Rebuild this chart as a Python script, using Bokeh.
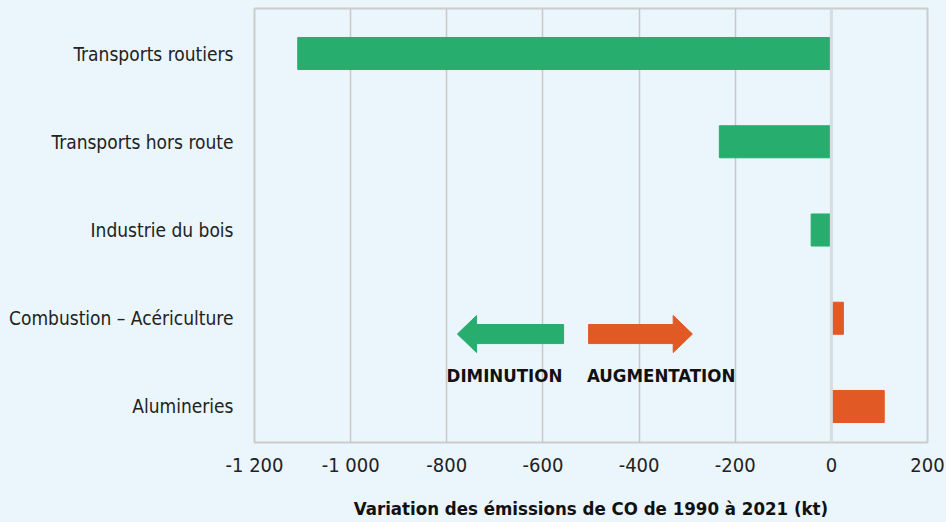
from bokeh.plotting import figure
from bokeh.models import FixedTicker, Span, ColumnDataSource, Label
from bokeh.embed import file_html
from bokeh.resources import INLINE

# ---- data ----
categories = ["Alumineries", "Combustion – Acériculture", "Industrie du bois",
              "Transports hors route", "Transports routiers"]
values = [110, 25, -42, -233, -1110]
x_ticks = [-1200, -1000, -800, -600, -400, -200, 0, 200]
x_tick_labels = ["-1 200", "-1 000", "-800", "-600", "-400", "-200", "0", "200"]
x_title = "Variation des émissions de CO de 1990 à 2021 (kt)"

# arrow annotations (data units)
arrow_labels = ["DIMINUTION", "AUGMENTATION"]
arrow_label_x = [-680, -354]
arrow_tail = [-557, -505]
arrow_head_base = [-738, -329]
arrow_tip = [-778, -289]

GREEN = "#27ae6e"
ORANGE = "#e15a26"
BG = "#eaf5fc"
FONT = "'DejaVu Sans Condensed', 'Liberation Sans Narrow', 'Arial Narrow', Roboto, sans-serif"

ypos = list(range(len(categories)))
colors = [ORANGE if v > 0 else GREEN for v in values]
src = ColumnDataSource(dict(y=ypos, v=values, c=colors))

p = figure(width=946, height=521, x_range=(-1200, 200), y_range=(-0.408, 4.51),
           output_backend="svg", toolbar_location=None,
           min_border_left=254, min_border_right=19, min_border_top=8, min_border_bottom=79)
p.background_fill_color = BG
p.border_fill_color = BG
p.outline_line_color = "#cccccc"
p.outline_line_width = 2

p.hbar(y="y", left=0, right="v", height=0.363, color="c", source=src)

# zero line
p.add_layout(Span(location=0, dimension="height", line_color="#d5dce2", line_width=3))

# arrows as patches
yc = 0.821
sh = 0.108
hh = 0.21
acol = [GREEN, ORANGE]
for i in range(2):
    xs = [arrow_tail[i], arrow_head_base[i], arrow_head_base[i], arrow_tip[i],
          arrow_head_base[i], arrow_head_base[i], arrow_tail[i]]
    ys = [yc + sh, yc + sh, yc + hh, yc, yc - hh, yc - sh, yc - sh]
    p.patch(xs, ys, color=acol[i])
    p.add_layout(Label(x=arrow_label_x[i], y=0.351, text=arrow_labels[i],
                       text_align="center", text_baseline="middle",
                       text_font=FONT, text_font_style="bold",
                       text_font_size="18.5px", text_color="#111111"))

# grid
p.xgrid.ticker = FixedTicker(ticks=x_ticks)
p.xgrid.grid_line_color = "#c8c8c8"
p.xgrid.grid_line_width = 1.5
p.ygrid.grid_line_color = None

# x axis
p.xaxis.ticker = FixedTicker(ticks=x_ticks)
p.xaxis.major_label_overrides = {t: l for t, l in zip(x_ticks, x_tick_labels)}
p.xaxis.axis_line_color = None
p.xaxis.major_tick_line_color = None
p.xaxis.minor_tick_line_color = None
p.xaxis.major_label_text_font = FONT
p.xaxis.major_label_text_font_size = "20px"
p.xaxis.major_label_text_color = "#222222"
p.xaxis.major_label_standoff = 4
p.xaxis.axis_label = x_title
p.xaxis.axis_label_text_font = FONT
p.xaxis.axis_label_text_font_style = "bold"
p.xaxis.axis_label_text_font_size = "18.5px"
p.xaxis.axis_label_text_color = "#111111"
p.xaxis.axis_label_standoff = 18

# y axis
p.yaxis.ticker = FixedTicker(ticks=ypos)
p.yaxis.major_label_overrides = {i: c for i, c in zip(ypos, categories)}
p.yaxis.axis_line_color = None
p.yaxis.major_tick_line_color = None
p.yaxis.minor_tick_line_color = None
p.yaxis.major_label_text_font = FONT
p.yaxis.major_label_text_font_size = "19px"
p.yaxis.major_label_text_color = "#222222"
p.yaxis.major_label_standoff = 15

html = file_html(p, INLINE)
html = html.replace("<head>", "<head><style>html,body{background:%s;}</style>" % BG, 1)
open("out.html", "w").write(html)
